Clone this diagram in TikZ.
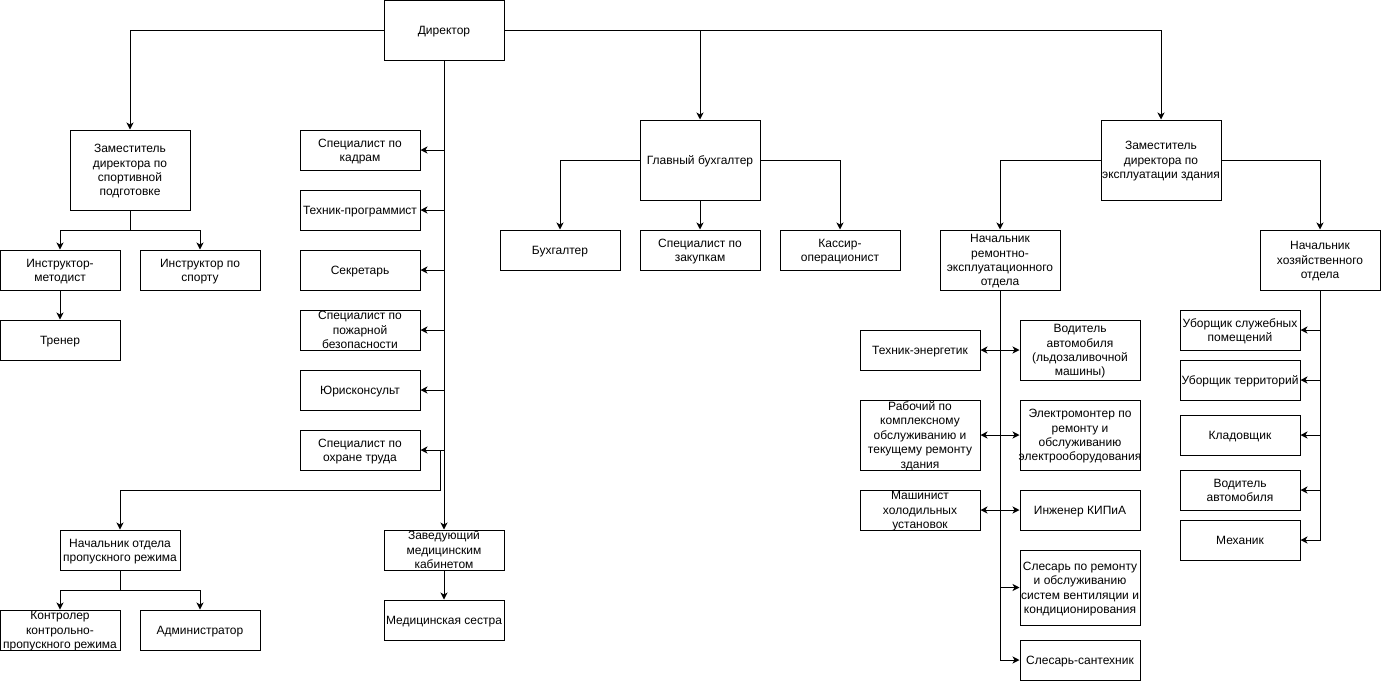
\documentclass[tikz,border=0pt]{standalone}
\usepackage{fontspec}
\setmainfont{Liberation Sans}
\usetikzlibrary{arrows.meta,calc}
\newcommand\tx[1]{\makebox[0pt]{\raisebox{-4.5pt}[0pt][0pt]{\begin{tabular}{@{}c@{}}#1\end{tabular}}}}
\begin{document}
\begin{tikzpicture}[x=1pt,y=-1pt,
  box/.style={draw=black,line width=1pt,fill=white,minimum width=120pt,minimum height=40pt,
    inner sep=0pt,font=\fontsize{12}{14.4}\selectfont},
  conn/.style={draw=black,line width=1pt},
  arr/.style={conn,-{Stealth[length=7pt,width=7pt,inset=2pt]}}]
\useasboundingbox[fill=white] (0,0) rectangle (1382,681);

% nodes
\node[box,minimum height=60pt] (dir) at (444,30) {\tx{Директор}};
\node[box,minimum height=80pt] (zs) at (130,170) {\tx{Заместитель\\директора по\\спортивной\\подготовке}};
\node[box] (im) at (60,270) {\tx{Инструктор-\\методист}};
\node[box] (isp) at (200,270) {\tx{Инструктор по\\спорту}};
\node[box] (tr) at (60,340) {\tx{Тренер}};

\node[box] (sk) at (360,150) {\tx{Специалист по\\кадрам}};
\node[box] (tp) at (360,210) {\tx{Техник-программист}};
\node[box] (sec) at (360,270) {\tx{Секретарь}};
\node[box] (spb) at (360,330) {\tx{Специалист по\\пожарной\\безопасности}};
\node[box] (yur) at (360,390) {\tx{Юрисконсульт}};
\node[box] (sot) at (360,450) {\tx{Специалист по\\охране труда}};

\node[box] (npr) at (120,550) {\tx{Начальник отдела\\пропускного режима}};
\node[box] (kon) at (60,630) {\tx{Контролер\\контрольно-\\пропускного режима}};
\node[box] (adm) at (200,630) {\tx{Администратор}};

\node[box] (zmk) at (444,550) {\tx{Заведующий\\медицинским\\кабинетом}};
\node[box] (ms) at (444,620) {\tx{Медицинская сестра}};

\node[box,minimum height=80pt] (gb) at (700,160) {\tx{Главный бухгалтер}};
\node[box] (bu) at (560,250) {\tx{Бухгалтер}};
\node[box] (sz) at (700,250) {\tx{Специалист по\\закупкам}};
\node[box] (ka) at (840,250) {\tx{Кассир-\\операционист}};

\node[box,minimum height=80pt] (ze) at (1161,160) {\tx{Заместитель\\директора по\\эксплуатации здания}};
\node[box,minimum height=60pt] (nreo) at (1000,260) {\tx{Начальник\\ремонтно-\\эксплуатационного\\отдела}};
\node[box,minimum height=60pt] (nho) at (1320,260) {\tx{Начальник\\хозяйственного\\отдела}};

\node[box] (te) at (920,350) {\tx{Техник-энергетик}};
\node[box,minimum height=60pt] (vod) at (1080,350) {\tx{Водитель\\автомобиля\\(льдозаливочной\\машины)}};
\node[box,minimum height=70pt] (rab) at (920,435) {\tx{Рабочий по\\комплексному\\обслуживанию и\\текущему ремонту\\здания}};
\node[box,minimum height=70pt] (elm) at (1080,435) {\tx{Электромонтер по\\ремонту и\\обслуживанию\\электрооборудования}};
\node[box] (mash) at (920,510) {\tx{Машинист\\холодильных\\установок}};
\node[box] (kip) at (1080,510) {\tx{Инженер КИПиА}};
\node[box,minimum height=75pt] (sl) at (1080,587.5) {\tx{Слесарь по ремонту\\и обслуживанию\\систем вентиляции и\\кондиционирования}};
\node[box] (ss) at (1080,660) {\tx{Слесарь-сантехник}};

\node[box] (us) at (1240,330) {\tx{Уборщик служебных\\помещений}};
\node[box] (ut) at (1240,380) {\tx{Уборщик территорий}};
\node[box] (kl) at (1240,435) {\tx{Кладовщик}};
\node[box] (va) at (1240,490) {\tx{Водитель\\автомобиля}};
\node[box] (mex) at (1240,540) {\tx{Механик}};

% connectors from director
\draw[arr] (dir.west) -| (zs.north);
\draw[arr] (dir.east) -| (gb.north);
\draw[arr] (dir.east) -| (ze.north);
\draw[arr] (dir.south) -- (zmk.north);
\foreach \n in {sk,tp,sec,spb,yur,sot}
  \draw[arr] (dir.south |- \n.east) -- (\n.east);
\draw[arr] (dir.south |- sot.east) -- ++(-4,0) -- ++(0,40) -| (npr.north);

% sport
\draw[arr] (zs.south) -- ++(0,20) -| (im.north);
\draw[arr] (zs.south) -- ++(0,20) -| (isp.north);
\draw[arr] (im.south) -- (tr.north);

% access control
\draw[arr] (npr.south) -- ++(0,20) -| (kon.north);
\draw[arr] (npr.south) -- ++(0,20) -| (adm.north);

% medical
\draw[arr] (zmk.south) -- (ms.north);

% accounting
\draw[arr] (gb.west) -| (bu.north);
\draw[arr] (gb.south) -- (sz.north);
\draw[arr] (gb.east) -| (ka.north);

% building
\draw[arr] (ze.west) -| (nreo.north);
\draw[arr] (ze.east) -| (nho.north);

\draw[arr] (nreo.south) |- (ss.west);
\foreach \l/\r in {te/vod,rab/elm,mash/kip}{
  \draw[arr] (nreo.south |- \l.east) -- (\l.east);
  \draw[arr] (nreo.south |- \r.west) -- (\r.west);
}
\draw[arr] (nreo.south |- sl.west) -- (sl.west);

\draw[arr] (nho.south) |- (mex.east);
\foreach \n in {us,ut,kl,va}
  \draw[arr] (nho.south |- \n.east) -- (\n.east);
\end{tikzpicture}
\end{document}
